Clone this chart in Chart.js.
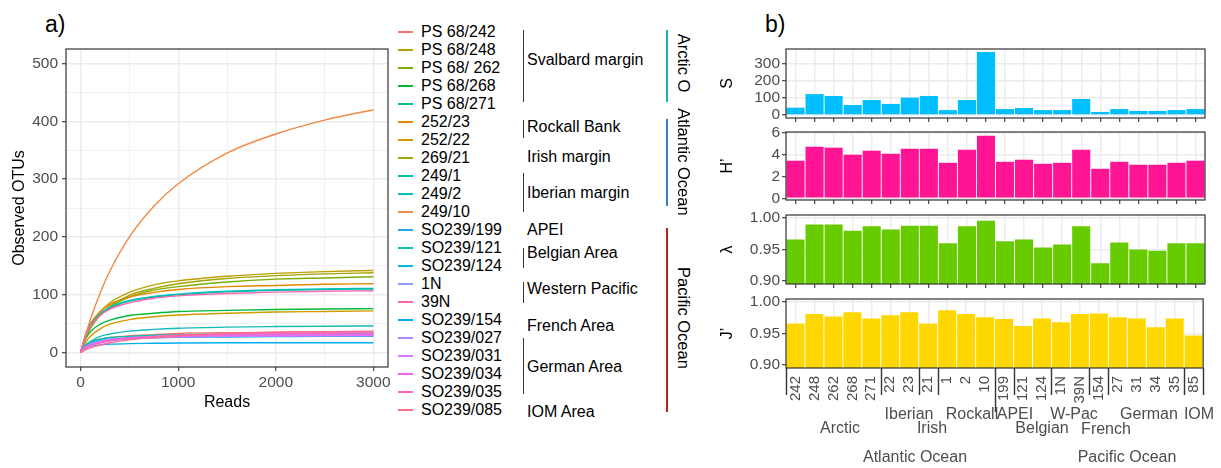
<!DOCTYPE html>
<html>
<head>
<meta charset="utf-8">
<script src="https://cdn.jsdelivr.net/npm/chart.js@4.4.1/dist/chart.umd.min.js"></script>
<style>
  body { margin: 0; width: 1221px; height: 468px; overflow: hidden; position: relative; background: #fff;
         font-family: 'Liberation Sans', Arial, sans-serif; }
  canvas { position: absolute; }
  .txt { position: absolute; white-space: nowrap; font-size: 16px; line-height: 1; color: #000; transform: translate(0, -50%); }
  .mid { transform: translate(-50%, -50%); }
  .rot { transform: translate(-50%, -50%) rotate(90deg); }
  .rule { position: absolute; width: 1.5px; background: #333; }
</style>
</head>
<body>
<div class="txt" style="left:45px;top:24px;font-size:23px">a)</div>
<div class="txt" style="left:765px;top:24px;font-size:23px">b)</div>
<canvas id="rareChart" width="395" height="390" style="left:0;top:33px"></canvas>
<canvas id="sChart" width="520" height="97" style="left:700px;top:35px"></canvas>
<canvas id="hChart" width="520" height="96" style="left:700px;top:118px"></canvas>
<canvas id="lChart" width="520" height="97" style="left:700px;top:201px"></canvas>
<canvas id="jChart" width="520" height="183" style="left:700px;top:285px"></canvas>
<div id="notes"></div>
<script>
// ---- rarefaction curves (panel a) ----
const reads = [0, 50, 100, 200, 300, 500, 750, 1000, 1500, 2000, 2500, 3000];
const stations = ["PS 68/242", "PS 68/248", "PS 68/ 262", "PS 68/268", "PS 68/271", "252/23", "252/22",
  "269/21", "249/1", "249/2", "249/10", "SO239/199", "SO239/121", "SO239/124", "1N", "39N",
  "SO239/154", "SO239/027", "SO239/031", "SO239/034", "SO239/035", "SO239/085"];
const otuCurves = [
  [0, 12, 17, 23, 26, 29, 31, 33, 34.5, 35, 35.5, 36],
  [0, 27, 46, 70, 86, 104, 117, 124, 132, 137, 140, 142],
  [0, 25, 42, 65, 79, 96, 108, 114, 122, 127, 129, 131],
  [0, 23, 36, 49, 56, 64, 68, 71, 73, 74.5, 75.4, 76],
  [0, 29, 46, 66, 77, 89, 96, 100, 105, 107.5, 109, 110],
  [0, 31, 50, 71, 83, 96, 104, 109, 114, 116, 118, 119],
  [0, 17, 28, 41, 49, 57, 62, 65, 68, 70, 71, 72],
  [0, 24, 42, 65, 80, 99, 111, 119, 128, 133, 136, 138],
  [0, 13, 18, 23, 26, 28, 30, 31, 32, 32.5, 33, 33],
  [0, 29, 47, 67, 78, 90, 97, 101, 106, 108.5, 110, 111],
  [0, 30, 57, 103, 141, 200, 253, 292, 345, 378, 402, 420],
  [0, 11, 15, 20, 23, 25, 27, 28, 29, 29.5, 30, 30],
  [0, 12, 19, 28, 32, 37, 40, 42, 44, 45, 45.6, 46],
  [0, 12, 16, 20, 22, 24, 25.5, 26.5, 27, 27.5, 28, 28],
  [0, 10, 15, 20, 23, 26, 28, 29.5, 30.5, 31, 31.5, 32],
  [0, 28, 45, 64, 75, 86, 94, 98, 102, 104.5, 106, 107],
  [0, 8, 11, 13.5, 14.5, 15.5, 16, 16.5, 17, 17, 17, 17],
  [0, 10, 14, 19, 22, 24, 26, 27, 28, 28.5, 29, 29],
  [0, 9, 13, 18, 21, 24, 26, 27.5, 28.5, 29, 29.5, 30],
  [0, 8, 12, 17, 20, 24, 26, 28, 29.5, 30, 30.5, 31],
  [0, 8, 12, 17, 21, 25, 28, 30, 32, 33, 33.5, 34],
  [0, 5, 8, 13, 17, 22, 26, 29, 33, 35, 36, 37],
];
const readTicks = [0, 500, 1000, 1500, 2000, 2500, 3000];
const otuTicks = [0, 50, 100, 150, 200, 250, 300, 350, 400, 450, 500];

// sampling areas and oceans listed beside the legend
const areaNames = ["Svalbard margin", "Rockall Bank", "Irish margin", "Iberian margin", "APEI",
  "Belgian Area", "Western Pacific", "French Area", "German Area", "IOM Area"];
const oceanNames = ["Arctic O", "Atlantic Ocean", "Pacific Ocean"];

// ---- diversity indices (panel b) ----
const siteCodes = ["242", "248", "262", "268", "271", "22", "23", "21", "1", "2", "10", "199",
  "121", "124", "1N", "39N", "154", "27", "31", "34", "35", "85"];
const richnessS = [43, 123, 112, 59, 88, 65, 102, 112, 29, 88, 371, 35, 41, 29, 29, 94, 18, 35, 24, 24, 29, 35];
const shannonH = [3.45, 4.74, 4.65, 4.00, 4.37, 4.09, 4.55, 4.55, 3.26, 4.46, 5.75, 3.35, 3.54, 3.17,
  3.26, 4.46, 2.71, 3.35, 3.08, 3.08, 3.26, 3.45];
const simpsonL = [0.966, 0.990, 0.990, 0.980, 0.987, 0.982, 0.988, 0.988, 0.960, 0.987, 0.996, 0.963,
  0.966, 0.953, 0.958, 0.987, 0.928, 0.961, 0.950, 0.948, 0.960, 0.960];
const evennessJ = [0.966, 0.981, 0.977, 0.984, 0.974, 0.979, 0.984, 0.966, 0.987, 0.981, 0.976, 0.973,
  0.962, 0.974, 0.968, 0.981, 0.982, 0.976, 0.974, 0.960, 0.974, 0.947];
const siteGroups = ["Arctic", "Iberian", "Irish", "Rockall", "APEI", "Belgian", "W-Pac", "French", "German", "IOM"];
const siteOceans = ["Atlantic Ocean", "Pacific Ocean"];
const groupBreaks = [0, 5, 7, 8, 11, 12, 14, 16, 17, 21, 22];
const oceanBreak = 11;

// ---- styling / layout ----
const curveColors = ["#F8766D", "#BBA000", "#7CAE00", "#00BA38", "#00C08B", "#E58700", "#D29A00",
  "#A3A500", "#00C1A0", "#00C0BE", "#F08A45", "#1FA8F0", "#14BDB5", "#00B8E0", "#8B9CFF", "#FF64B0",
  "#00AEEF", "#B085FF", "#D978FF", "#F266E6", "#FF61C9", "#FF6C91"];
const legendTop = 32, legendStep = 18;
const areaLabelY = [60, 127, 157, 193, 230, 253, 289, 326, 367, 411.5];
const areaRules = [[30, 102], [120, 138], null, [173, 212], null, [248, 268], [282, 303], null, [338, 394], null];
const oceanLabelY = [63, 162, 318];
const oceanRules = [[30, 102], [119, 206], [228, 412]];
const oceanColors = ["#17B2AE", "#3C80C2", "#B3261E"];
const groupPos = [[840, 428], [909, 414], [932, 428], [972, 414], [1015, 414], [1042, 428],
  [1074, 414], [1106, 429], [1149, 414], [1199, 414]];
const oceanPos = [[915, 457], [1127, 457]];

Chart.defaults.font.family = "'Liberation Sans', Arial, sans-serif";
Chart.defaults.font.size = 16;

const GRID = "#EBEBEB";
const TICK_TEXT = "#4D4D4D";

// full dark frame round each panel, like a bw theme
const panelBox = {
  id: "panelBox",
  afterDraw(chart) {
    const { ctx, chartArea: a } = chart;
    ctx.save();
    ctx.strokeStyle = "#333333";
    ctx.lineWidth = 1.2;
    ctx.strokeRect(a.left, a.top, a.right - a.left, a.bottom - a.top);
    ctx.restore();
  },
};

// separators under the bottom panel marking the site groups
const groupRules = {
  id: "groupRules",
  afterDraw(chart) {
    const x = chart.scales.x, a = chart.chartArea, ctx = chart.ctx;
    ctx.save();
    ctx.strokeStyle = "#333333";
    ctx.lineWidth = 1.4;
    groupBreaks.forEach(b => {
      const px = Math.round(x.getPixelForValue(b - 0.5)) + 0.5;
      ctx.beginPath();
      ctx.moveTo(px, a.bottom);
      ctx.lineTo(px, a.bottom + (b === oceanBreak ? 44 : 27));
      ctx.stroke();
    });
    ctx.restore();
  },
};

function isMajor(v, step) {
  return Math.abs(v / step - Math.round(v / step)) < 1e-6;
}

function gridFor(step) {
  return {
    color: GRID,
    lineWidth: c => (c.tick && isMajor(c.tick.value, step) ? 1.4 : 0.7),
    tickColor: c => (c.tick && isMajor(c.tick.value, step) ? "#333333" : "rgba(0,0,0,0)"),
    tickLength: 4,
    tickWidth: 1.1,
  };
}

new Chart(document.getElementById("rareChart"), {
  type: "line",
  data: {
    datasets: stations.map((name, i) => ({
      label: name,
      data: reads.map((r, k) => ({ x: r, y: otuCurves[i][k] })),
      borderColor: curveColors[i],
      borderWidth: 1.4,
      pointRadius: 0,
      cubicInterpolationMode: "monotone",
      order: stations.length - i,
    })),
  },
  options: {
    responsive: false,
    animation: false,
    layout: { padding: { top: 16, right: 7, left: 0, bottom: 0 } },
    plugins: { legend: { display: false }, tooltip: { enabled: false } },
    scales: {
      x: {
        type: "linear", min: -150, max: 3150,
        afterBuildTicks: s => { s.ticks = readTicks.map(v => ({ value: v })); },
        afterFit: s => { s.height = 56; },
        ticks: { callback: v => (v % 1000 === 0 ? String(v) : ""), color: TICK_TEXT, font: { size: 15.5 },
                 padding: 2, maxRotation: 0, autoSkip: false },
        grid: gridFor(1000),
        border: { display: false },
        title: { display: true, text: "Reads", color: "#000", font: { size: 16 }, padding: { top: 0, bottom: 11 } },
      },
      y: {
        min: -25, max: 525,
        afterBuildTicks: s => { s.ticks = otuTicks.map(v => ({ value: v })); },
        afterFit: s => { s.width = 66; },
        ticks: { callback: v => (v % 100 === 0 ? String(v) : ""), color: TICK_TEXT, font: { size: 15.5 }, padding: 4 },
        grid: gridFor(100),
        border: { display: false },
        title: { display: true, text: "Observed OTUs", color: "#000", font: { size: 16 }, padding: { top: 10, bottom: 0 } },
      },
    },
  },
  plugins: [panelBox],
});

function barPanel(id, title, values, color, yMin, yMax, tickVals, step, fmt, labelled) {
  return new Chart(document.getElementById(id), {
    type: "bar",
    data: {
      labels: siteCodes,
      datasets: [{ data: values, backgroundColor: color, categoryPercentage: 1, barPercentage: 0.95, clip: 0 }],
    },
    options: {
      responsive: false,
      animation: false,
      layout: { padding: { top: 14, right: 15, left: 0, bottom: 0 } },
      plugins: { legend: { display: false }, tooltip: { enabled: false } },
      scales: {
        x: {
          offset: true,
          grid: { offset: false, color: GRID, lineWidth: 1.4, drawTicks: !labelled, tickLength: 4,
                  tickColor: "#333333", tickWidth: 1.1 },
          border: { display: false },
          ticks: { display: labelled, minRotation: 90, maxRotation: 90, autoSkip: false, padding: 8,
                   color: TICK_TEXT, font: { size: 15 } },
          afterFit: s => { s.height = labelled ? 100 : 14; },
        },
        y: {
          min: yMin, max: yMax,
          afterBuildTicks: s => { s.ticks = tickVals.map(v => ({ value: v })); },
          afterFit: s => { s.width = 86; },
          ticks: { callback: v => (isMajor(v, step) ? fmt(v) : ""), color: TICK_TEXT, font: { size: 15.5 }, padding: 2 },
          grid: gridFor(step),
          border: { display: false },
          title: { display: true, text: title, color: "#000", font: { size: 16 }, padding: { top: 18, bottom: 0 } },
        },
      },
    },
    plugins: labelled ? [panelBox, groupRules] : [panelBox],
  });
}

const fix2 = v => v.toFixed(2);
barPanel("sChart", "S", richnessS, "#00BFFF", -17.6, 388, [0, 50, 100, 150, 200, 250, 300, 350], 100, v => String(v), false);
barPanel("hChart", "H\u2019", shannonH, "#FF1493", -0.16, 6.09, [0, 1, 2, 3, 4, 5, 6], 2, v => String(v), false);
barPanel("lChart", "\u03BB", simpsonL, "#66CC00", 0.895, 1.005, [0.9, 0.925, 0.95, 0.975, 1.0], 0.05, fix2, false);
barPanel("jChart", "J\u2019", evennessJ, "#FFD700", 0.895, 1.005, [0.9, 0.925, 0.95, 0.975, 1.0], 0.05, fix2, true);

// ---- HTML annotations: legend, area brackets, ocean bands, group names ----
const notes = document.getElementById("notes");
function addText(text, x, y, cls, extra) {
  const d = document.createElement("div");
  d.className = "txt" + (cls ? " " + cls : "");
  d.textContent = text;
  d.style.left = x + "px";
  d.style.top = y + "px";
  if (extra) Object.assign(d.style, extra);
  notes.appendChild(d);
}
function addRule(x, y0, y1, color) {
  const d = document.createElement("div");
  d.className = "rule";
  d.style.left = x + "px";
  d.style.top = y0 + "px";
  d.style.height = (y1 - y0) + "px";
  if (color) d.style.background = color;
  notes.appendChild(d);
}

stations.forEach((name, i) => {
  const y = legendTop + legendStep * i;
  const key = document.createElement("div");
  Object.assign(key.style, { position: "absolute", left: "398px", top: (y - 0.75) + "px", width: "15px",
    height: "1.5px", background: curveColors[i] });
  notes.appendChild(key);
  addText(name, 421, y);
});

areaNames.forEach((name, i) => {
  addText(name, 527, areaLabelY[i]);
  if (areaRules[i]) addRule(522.5, areaRules[i][0], areaRules[i][1]);
});

oceanNames.forEach((name, i) => {
  addRule(666, oceanRules[i][0], oceanRules[i][1], oceanColors[i]);
  addText(name, 684, oceanLabelY[i], "rot", { fontSize: "16.5px" });
});

siteGroups.forEach((name, i) => addText(name, groupPos[i][0], groupPos[i][1], "mid", { color: TICK_TEXT }));
siteOceans.forEach((name, i) => addText(name, oceanPos[i][0], oceanPos[i][1], "mid", { color: TICK_TEXT }));
</script>
</body>
</html>
